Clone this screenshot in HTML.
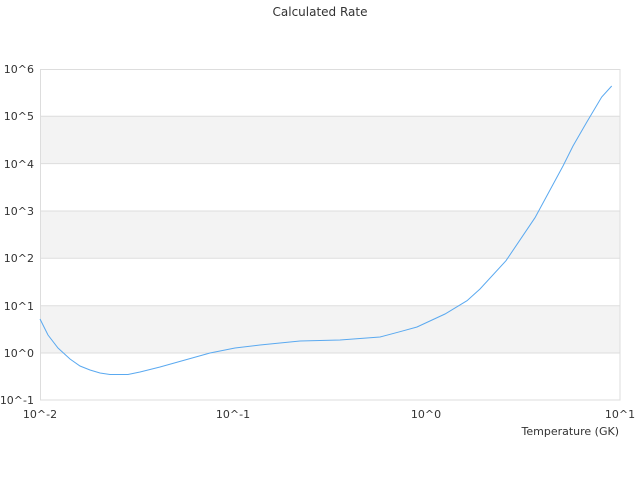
<!DOCTYPE html>
<html><head><meta charset="utf-8"><style>
body{margin:0;background:#fff}
svg text{font-family:"DejaVu Sans","Liberation Sans",sans-serif;fill:#333}
</style></head><body>
<svg width="640" height="480" viewBox="0 0 640 480" xmlns="http://www.w3.org/2000/svg">
<rect width="640" height="480" fill="#fff"/>
<text x="320" y="16" font-size="12" text-anchor="middle">Calculated Rate</text>
<g fill="#f3f3f3">
<rect x="40" y="116.3" width="580" height="47.3"/>
<rect x="40" y="211" width="580" height="47.3"/>
<rect x="40" y="305.7" width="580" height="47.3"/>
</g>
<g stroke="#ddd" stroke-width="1">
<line x1="40" y1="116.3" x2="620" y2="116.3"/>
<line x1="40" y1="163.6" x2="620" y2="163.6"/>
<line x1="40" y1="211" x2="620" y2="211"/>
<line x1="40" y1="258.3" x2="620" y2="258.3"/>
<line x1="40" y1="305.7" x2="620" y2="305.7"/>
<line x1="40" y1="353" x2="620" y2="353"/>
<rect x="40.5" y="69.5" width="579.5" height="330.5" fill="none"/>
</g>
<polyline fill="none" stroke="#5aa9f0" stroke-width="1" points="40,319 48,335 58,348 70,359 80,366 90,370 100,373 110,374.5 128,374.5 140,372 160,367 185,360 210,353 235,348 260,345 300,341 340,340 380,337 400,331.7 417,327 445,314 467,300.7 480,289 506,260.7 535,217.7 563,166 573,146 587,121.7 601.7,97 611.7,86"/>
<g font-size="11" text-anchor="end">
<text x="34" y="73">10^6</text>
<text x="34" y="120">10^5</text>
<text x="34" y="168">10^4</text>
<text x="34" y="215">10^3</text>
<text x="34" y="262">10^2</text>
<text x="34" y="310">10^1</text>
<text x="34" y="357">10^0</text>
<text x="34" y="404">10^-1</text>
</g>
<g font-size="11" text-anchor="middle">
<text x="40" y="418">10^-2</text>
<text x="233" y="418">10^-1</text>
<text x="426" y="418">10^0</text>
<text x="620" y="418">10^1</text>
</g>
<text x="619" y="435" font-size="11" text-anchor="end">Temperature (GK)</text>
</svg>
</body></html>
